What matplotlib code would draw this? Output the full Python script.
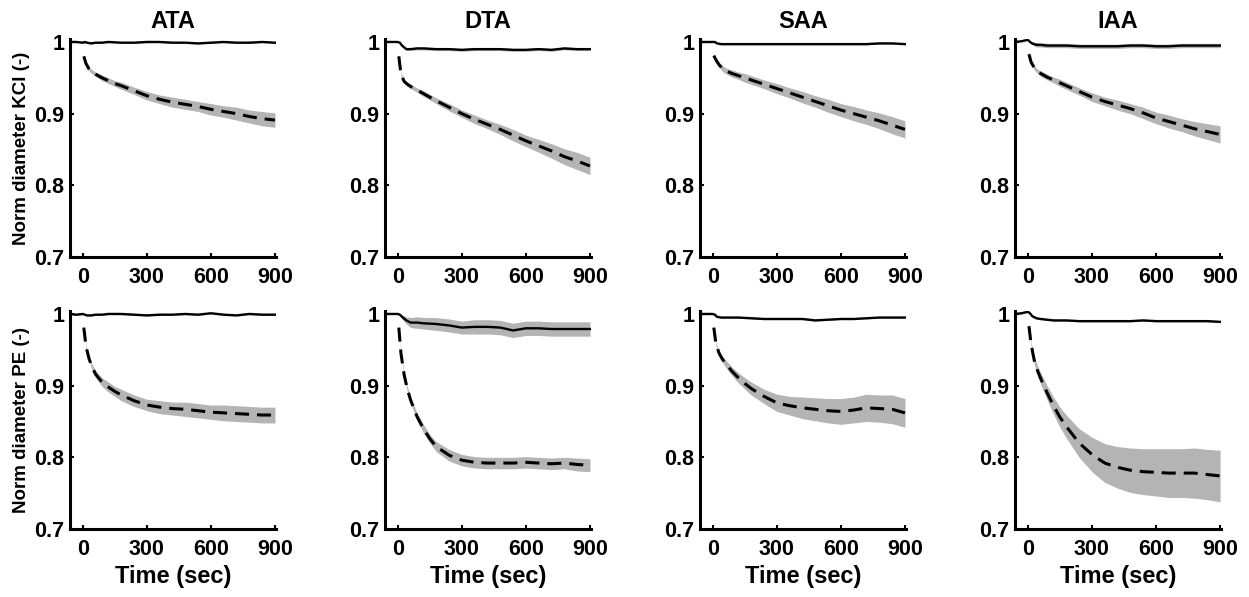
import matplotlib
matplotlib.use('Agg')
import matplotlib.pyplot as plt

plt.rcParams['font.family'] = ['Liberation Sans', 'DejaVu Sans']
plt.rcParams['font.weight'] = 'bold'

# time grids (sec)
t_solid = [-60, -30, 0, 10, 20, 40, 60, 90, 120, 180, 240, 300, 360, 420, 480, 540, 600, 660, 720, 780, 840, 900]
t_dash = [5, 15, 30, 45, 60, 90, 120, 150, 180, 240, 300, 360, 420, 480, 540, 600, 660, 720, 780, 840, 900]

titles = ['ATA', 'DTA', 'SAA', 'IAA']
row_labels = ['Norm diameter KCl (-)', 'Norm diameter PE (-)']

# ---- KCl row ----
ata_kcl_ctrl = [1.0, 1.0, 0.999, 1.0, 0.999, 0.998, 0.999, 0.999, 1.0, 0.999, 0.999, 1.0, 1.0, 0.999, 0.999, 0.998, 0.999, 1.0, 0.999, 0.999, 1.0, 0.999]
ata_kcl_ctrl_sd = [0.001] * 22
ata_kcl_drug = [0.980, 0.970, 0.962, 0.958, 0.955, 0.950, 0.946, 0.942, 0.939, 0.932, 0.925, 0.920, 0.916, 0.913, 0.910, 0.906, 0.903, 0.900, 0.896, 0.893, 0.891]
ata_kcl_drug_sd = [0.001, 0.002, 0.003, 0.003, 0.003, 0.004, 0.004, 0.004, 0.005, 0.005, 0.006, 0.006, 0.007, 0.007, 0.007, 0.008, 0.008, 0.009, 0.009, 0.010, 0.010]

dta_kcl_ctrl = [1.0, 1.0, 1.0, 0.999, 0.995, 0.990, 0.990, 0.991, 0.991, 0.990, 0.990, 0.989, 0.990, 0.990, 0.990, 0.989, 0.989, 0.990, 0.989, 0.991, 0.990, 0.990]
dta_kcl_ctrl_sd = [0.0, 0.0, 0.0, 0.001, 0.002, 0.002, 0.002, 0.002, 0.002, 0.002, 0.002, 0.002, 0.002, 0.002, 0.002, 0.002, 0.002, 0.002, 0.002, 0.002, 0.002, 0.002]
dta_kcl_drug = [0.980, 0.955, 0.945, 0.941, 0.938, 0.933, 0.928, 0.923, 0.918, 0.909, 0.900, 0.892, 0.885, 0.878, 0.870, 0.862, 0.855, 0.848, 0.840, 0.834, 0.827]
dta_kcl_drug_sd = [0.001, 0.002, 0.002, 0.003, 0.003, 0.003, 0.004, 0.004, 0.004, 0.005, 0.005, 0.006, 0.006, 0.007, 0.008, 0.008, 0.009, 0.010, 0.011, 0.012, 0.012]

saa_kcl_ctrl = [1.0, 1.0, 1.0, 1.0, 0.998, 0.997, 0.997, 0.997, 0.997, 0.997, 0.997, 0.997, 0.997, 0.997, 0.997, 0.997, 0.997, 0.997, 0.997, 0.998, 0.998, 0.997]
saa_kcl_ctrl_sd = [0.001] * 22
saa_kcl_drug = [0.981, 0.975, 0.968, 0.963, 0.960, 0.956, 0.953, 0.950, 0.947, 0.941, 0.935, 0.929, 0.923, 0.917, 0.911, 0.905, 0.900, 0.895, 0.890, 0.884, 0.878]
saa_kcl_drug_sd = [0.001, 0.002, 0.003, 0.004, 0.004, 0.005, 0.005, 0.006, 0.006, 0.006, 0.007, 0.007, 0.008, 0.008, 0.009, 0.009, 0.010, 0.010, 0.011, 0.012, 0.012]

iaa_kcl_ctrl = [1.0, 1.001, 1.003, 1.0, 0.998, 0.996, 0.996, 0.995, 0.995, 0.995, 0.994, 0.994, 0.994, 0.994, 0.995, 0.995, 0.994, 0.994, 0.995, 0.995, 0.995, 0.995]
iaa_kcl_ctrl_sd = [0.0, 0.0, 0.0, 0.001, 0.002, 0.003, 0.003, 0.003, 0.003, 0.003, 0.003, 0.003, 0.003, 0.003, 0.003, 0.003, 0.003, 0.003, 0.003, 0.003, 0.003, 0.003]
iaa_kcl_drug = [0.983, 0.972, 0.964, 0.959, 0.956, 0.951, 0.947, 0.943, 0.939, 0.931, 0.923, 0.917, 0.912, 0.907, 0.901, 0.894, 0.889, 0.884, 0.879, 0.875, 0.871]
iaa_kcl_drug_sd = [0.001, 0.002, 0.003, 0.003, 0.004, 0.004, 0.004, 0.005, 0.005, 0.005, 0.006, 0.006, 0.007, 0.007, 0.008, 0.008, 0.009, 0.009, 0.010, 0.011, 0.012]

# ---- PE row ----
ata_pe_ctrl = [1.0, 0.999, 1.0, 0.999, 0.998, 0.998, 0.999, 0.999, 1.0, 1.0, 0.999, 0.998, 0.999, 0.999, 1.0, 0.999, 1.001, 0.999, 0.998, 1.0, 0.999, 0.999]
ata_pe_ctrl_sd = [0.001] * 22
ata_pe_drug = [0.981, 0.955, 0.937, 0.925, 0.916, 0.905, 0.898, 0.892, 0.887, 0.879, 0.873, 0.870, 0.868, 0.867, 0.865, 0.863, 0.862, 0.861, 0.860, 0.859, 0.859]
ata_pe_drug_sd = [0.001, 0.002, 0.003, 0.004, 0.005, 0.006, 0.007, 0.007, 0.008, 0.008, 0.008, 0.009, 0.009, 0.010, 0.010, 0.010, 0.011, 0.011, 0.011, 0.011, 0.011]

dta_pe_ctrl = [1.0, 1.0, 1.0, 0.999, 0.996, 0.991, 0.988, 0.988, 0.987, 0.986, 0.984, 0.981, 0.982, 0.982, 0.981, 0.977, 0.980, 0.980, 0.979, 0.979, 0.979, 0.979]
dta_pe_ctrl_sd = [0.0, 0.0, 0.0, 0.001, 0.003, 0.005, 0.007, 0.008, 0.008, 0.009, 0.009, 0.009, 0.010, 0.010, 0.010, 0.010, 0.010, 0.010, 0.010, 0.010, 0.010, 0.010]
dta_pe_drug = [0.981, 0.945, 0.915, 0.895, 0.880, 0.857, 0.840, 0.826, 0.815, 0.803, 0.796, 0.793, 0.792, 0.792, 0.792, 0.793, 0.792, 0.791, 0.792, 0.790, 0.789]
dta_pe_drug_sd = [0.001, 0.002, 0.003, 0.003, 0.004, 0.005, 0.006, 0.006, 0.007, 0.008, 0.008, 0.008, 0.008, 0.008, 0.008, 0.008, 0.008, 0.008, 0.008, 0.009, 0.009]

saa_pe_ctrl = [1.0, 1.0, 1.0, 0.999, 0.996, 0.995, 0.995, 0.995, 0.995, 0.994, 0.993, 0.993, 0.993, 0.993, 0.991, 0.992, 0.993, 0.993, 0.994, 0.995, 0.995, 0.995]
saa_pe_ctrl_sd = [0.001] * 22
saa_pe_drug = [0.981, 0.958, 0.945, 0.937, 0.931, 0.920, 0.911, 0.903, 0.896, 0.885, 0.876, 0.872, 0.869, 0.867, 0.865, 0.864, 0.866, 0.869, 0.868, 0.867, 0.862]
saa_pe_drug_sd = [0.001, 0.002, 0.003, 0.004, 0.005, 0.006, 0.007, 0.008, 0.009, 0.010, 0.012, 0.013, 0.015, 0.016, 0.017, 0.018, 0.018, 0.019, 0.019, 0.020, 0.020]

iaa_pe_ctrl = [1.0, 1.001, 1.003, 1.001, 0.997, 0.994, 0.993, 0.992, 0.991, 0.991, 0.990, 0.990, 0.990, 0.990, 0.990, 0.991, 0.990, 0.990, 0.990, 0.990, 0.990, 0.989]
iaa_pe_ctrl_sd = [0.001] * 22
iaa_pe_drug = [0.983, 0.958, 0.935, 0.921, 0.910, 0.890, 0.872, 0.856, 0.843, 0.820, 0.804, 0.792, 0.786, 0.782, 0.780, 0.779, 0.778, 0.778, 0.778, 0.776, 0.774]
iaa_pe_drug_sd = [0.001, 0.003, 0.005, 0.007, 0.008, 0.010, 0.012, 0.014, 0.016, 0.020, 0.024, 0.027, 0.029, 0.031, 0.032, 0.033, 0.034, 0.034, 0.035, 0.035, 0.036]

panels = [
    [(ata_kcl_ctrl, ata_kcl_ctrl_sd, ata_kcl_drug, ata_kcl_drug_sd),
     (dta_kcl_ctrl, dta_kcl_ctrl_sd, dta_kcl_drug, dta_kcl_drug_sd),
     (saa_kcl_ctrl, saa_kcl_ctrl_sd, saa_kcl_drug, saa_kcl_drug_sd),
     (iaa_kcl_ctrl, iaa_kcl_ctrl_sd, iaa_kcl_drug, iaa_kcl_drug_sd)],
    [(ata_pe_ctrl, ata_pe_ctrl_sd, ata_pe_drug, ata_pe_drug_sd),
     (dta_pe_ctrl, dta_pe_ctrl_sd, dta_pe_drug, dta_pe_drug_sd),
     (saa_pe_ctrl, saa_pe_ctrl_sd, saa_pe_drug, saa_pe_drug_sd),
     (iaa_pe_ctrl, iaa_pe_ctrl_sd, iaa_pe_drug, iaa_pe_drug_sd)],
]

band = '#b4b4b4'

fig = plt.figure(figsize=(12.49, 5.97), dpi=100)
lefts = [0.056, 0.3082, 0.5604, 0.8127]
bottoms = [0.5695, 0.1139]

for r in range(2):
    for c in range(4):
        ax = fig.add_axes([lefts[c], bottoms[r], 0.165, 0.365])
        ctrl, ctrl_sd, drug, drug_sd = panels[r][c]

        # grey band = mean +/- sd
        lo = [m - s for m, s in zip(ctrl, ctrl_sd)]
        hi = [m + s for m, s in zip(ctrl, ctrl_sd)]
        ax.fill_between(t_solid, lo, hi, color=band, lw=0)
        lo = [m - s for m, s in zip(drug, drug_sd)]
        hi = [m + s for m, s in zip(drug, drug_sd)]
        ax.fill_between(t_dash, lo, hi, color=band, lw=0)

        ax.plot(t_solid, ctrl, color='black', lw=1.7)
        ax.plot(t_dash, drug, color='black', lw=2.2, linestyle=(0, (4.6, 2.6)))

        ax.set_xlim(-60, 905)
        ax.set_ylim(0.7, 1.004)
        ax.set_xticks([0, 300, 600, 900])
        ax.set_yticks([0.7, 0.8, 0.9, 1.0])
        ax.set_yticklabels(['0.7', '0.8', '0.9', '1'])
        ax.tick_params(direction='in', length=3, width=1.5, labelsize=15.5)
        ax.tick_params(axis='x', pad=7)
        ax.tick_params(axis='y', pad=4)
        for lab in ax.get_xticklabels() + ax.get_yticklabels():
            lab.set_fontweight('bold')
        ax.spines['top'].set_visible(False)
        ax.spines['right'].set_visible(False)
        ax.spines['left'].set_linewidth(2.2)
        ax.spines['bottom'].set_linewidth(2.2)

        if r == 0:
            ax.set_title(titles[c], fontsize=17, fontweight='bold', pad=8)
        else:
            ax.set_xlabel('Time (sec)', fontsize=17, fontweight='bold', labelpad=4)
        if c == 0:
            ax.set_ylabel(row_labels[r], fontsize=13.5, fontweight='bold', labelpad=3)

fig.savefig('out.png', dpi=100)
